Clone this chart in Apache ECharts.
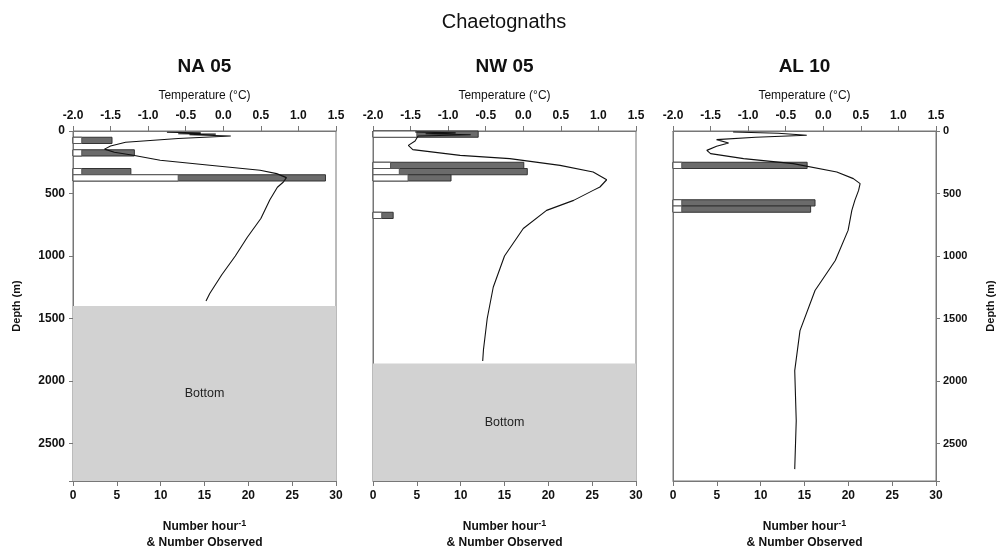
<!DOCTYPE html>
<html><head><meta charset="utf-8">
<script src="https://cdn.jsdelivr.net/npm/echarts@6/dist/echarts.min.js"></script>
<style>html,body{margin:0;padding:0;background:#fff}#c{width:1007px;height:549px}</style>
</head><body><div id="c"></div>
<script>
// ---------- data ----------
const chartTitle = 'Chaetognaths';
const panelTitles = ['NA 05', 'NW 05', 'AL 10'];
const depthMax = 2800;
const tempMin = -2, tempMax = 1.5;
const numMin = 0, numMax = 30;

// NA 05 net samples (depth intervals, m)
const naBarTop = [50, 150, 300, 350];
const naBarBottom = [100, 200, 350, 400];
const naRate = [4.45, 7.0, 6.6, 28.8];      // Number hour^-1
const naObserved = [1, 1, 1, 12];          // Number observed
const naSeafloor = 1400;

// NW 05
const nwBarTop = [0, 250, 300, 350, 650];
const nwBarBottom = [50, 300, 350, 400, 700];
const nwRate = [12.0, 17.2, 17.6, 8.9, 2.3];
const nwObserved = [5, 2, 3, 4, 1];
const nwSeafloor = 1860;

// AL 10
const alBarTop = [250, 550, 600];
const alBarBottom = [300, 600, 650];
const alRate = [15.3, 16.2, 15.7];
const alObserved = [1, 1, 1];
const alSeafloor = null;

// Temperature profiles (°C vs depth m)
const naTemp  = [-0.75, -0.3, -0.6, -0.1, -0.45, 0.1, -0.6, -1.3, -1.5, -1.58, -1.45, -1.2, -0.84, -0.18, 0.49, 0.71, 0.84, 0.80, 0.72, 0.62, 0.50, 0.32, 0.16, -0.02, -0.18, -0.23];
const naDepth = [10, 15, 22, 25, 30, 40, 60, 90, 120, 145, 170, 194, 234, 274, 314, 341, 373, 408, 450, 550, 700, 850, 1000, 1150, 1300, 1360];

const nwTemp  = [-1.44, -0.9, -1.3, -0.7, -1.4, -1.44, -1.53, -1.55, -1.47, -0.84, -0.18, 0.49, 0.93, 1.11, 1.02, 0.93, 0.67, 0.31, 0.0, -0.25, -0.40, -0.48, -0.53, -0.54];
const nwDepth = [8, 15, 22, 30, 40, 80, 115, 130, 149, 195, 221, 275, 328, 390, 448, 475, 555, 635, 780, 1000, 1250, 1500, 1750, 1840];

const alTemp  = [-1.2, -0.6, -0.22, -0.9, -1.42, -1.26, -1.42, -1.55, -1.5, -1.06, -0.40, 0.18, 0.40, 0.49, 0.47, 0.42, 0.38, 0.33, 0.16, -0.11, -0.31, -0.38, -0.36, -0.38];
const alDepth = [8, 18, 34, 50, 69, 96, 122, 155, 181, 221, 261, 328, 381, 421, 475, 555, 635, 795, 1036, 1276, 1597, 1917, 2318, 2705];

// ---------- build ----------
const FONT = '"Liberation Sans", Arial, sans-serif';
const panels = [
  {top: naBarTop, bot: naBarBottom, rate: naRate, obs: naObserved, floor: naSeafloor, temp: naTemp, depth: naDepth},
  {top: nwBarTop, bot: nwBarBottom, rate: nwRate, obs: nwObserved, floor: nwSeafloor, temp: nwTemp, depth: nwDepth},
  {top: alBarTop, bot: alBarBottom, rate: alRate, obs: alObserved, floor: alSeafloor, temp: alTemp, depth: alDepth}
];
const gridLeft = [73, 373, 673];
const gridW = 263, gridTop = 131, gridH = 350;
const AX = '#777';

const grid = gridLeft.map(l => ({left: l, top: gridTop, width: gridW, height: gridH, show: true, borderColor: AX, borderWidth: 1,
  backgroundColor: 'transparent', containLabel: false, outerBoundsMode: 'none'}));

const xAxis = [];
panels.forEach((p, i) => {
  xAxis.push({
    type: 'value', gridIndex: i, position: 'bottom', min: numMin, max: numMax, interval: 5,
    axisLine: {show: true, onZero: false, lineStyle: {color: AX}}, axisTick: {show: true, length: 5, lineStyle: {color: AX}},
    splitLine: {show: false},
    axisLabel: {fontFamily: FONT, fontWeight: 'bold', fontSize: 12, color: '#111', margin: 9},
    name: '{a|Number hour}{s|-1}\n{a|& Number Observed}', nameLocation: 'middle', nameGap: 38,
    nameTextStyle: {fontFamily: FONT, fontWeight: 'bold', fontSize: 12, color: '#111', lineHeight: 16,
      rich: {a: {fontFamily: FONT, fontWeight: 'bold', fontSize: 12, color: '#111', lineHeight: 16},
             s: {fontFamily: FONT, fontWeight: 'bold', fontSize: 9, color: '#111', verticalAlign: 'top', padding: [0, 0, 10, 0], lineHeight: 16}}}
  });
});
panels.forEach((p, i) => {
  xAxis.push({
    type: 'value', gridIndex: i, position: 'top', min: tempMin, max: tempMax, interval: 0.5,
    axisLine: {show: true, onZero: false, lineStyle: {color: AX}}, axisTick: {show: true, length: 5, lineStyle: {color: AX}},
    splitLine: {show: false},
    axisLabel: {fontFamily: FONT, fontWeight: 'bold', fontSize: 12, color: '#111', margin: 9, formatter: v => v.toFixed(1)},
    name: 'Temperature (°C)', nameLocation: 'middle', nameGap: 29,
    nameTextStyle: {fontFamily: FONT, fontSize: 12, color: '#111'}
  });
});

const depthLabelFmt = v => (v % 500 === 0 ? String(v) : '');
const yAxis = [];
panels.forEach((p, i) => {
  yAxis.push({
    type: 'value', gridIndex: i, position: 'left', inverse: true, min: 0, max: depthMax, interval: 500,
    axisLine: {show: true, onZero: false, lineStyle: {color: AX}},
    axisTick: {show: i === 0, length: 4, lineStyle: {color: AX}},
    axisLabel: {show: i === 0, fontFamily: FONT, fontWeight: 'bold', fontSize: 12, color: '#111', margin: 8, formatter: depthLabelFmt},
    splitLine: {show: false},
    name: i === 0 ? 'Depth (m)' : '', nameLocation: 'middle', nameRotate: 90, nameGap: 51,
    nameTextStyle: {fontFamily: FONT, fontWeight: 'bold', fontSize: 11, color: '#111'}
  });
});
yAxis.push({
  type: 'value', gridIndex: 2, position: 'right', inverse: true, min: 0, max: depthMax, interval: 500,
  axisLine: {show: true, onZero: false, lineStyle: {color: AX}},
  axisTick: {show: true, length: 4, lineStyle: {color: AX}},
  axisLabel: {fontFamily: FONT, fontWeight: 'bold', fontSize: 11, color: '#111', margin: 7, formatter: depthLabelFmt},
  splitLine: {show: false},
  name: 'Depth (m)', nameLocation: 'middle', nameRotate: 90, nameGap: 49,
  nameTextStyle: {fontFamily: FONT, fontWeight: 'bold', fontSize: 11, color: '#111'}
});

function rectRender(fill, stroke) {
  return function (params, api) {
    const p0 = api.coord([0, api.value(0)]);
    const p1 = api.coord([api.value(2), api.value(1)]);
    return {type: 'rect', shape: {x: p0[0], y: p0[1], width: p1[0] - p0[0], height: p1[1] - p0[1]},
      style: {fill: fill, stroke: stroke, lineWidth: 1}};
  };
}
function floorRender(params, api) {
  const p0 = api.coord([numMin, api.value(0)]);
  const p1 = api.coord([numMax, api.value(1)]);
  return {type: 'group', children: [
    {type: 'rect', shape: {x: p0[0], y: p0[1], width: p1[0] - p0[0], height: p1[1] - p0[1]}, style: {fill: '#d2d2d2'}},
    {type: 'text', x: (p0[0] + p1[0]) / 2, y: (p0[1] + p1[1]) / 2,
      style: {text: 'Bottom', fill: '#222', font: '12.5px ' + FONT, align: 'center', verticalAlign: 'middle'}}
  ]};
}

const series = [];
panels.forEach((p, i) => {
  if (p.floor !== null) {
    series.push({type: 'custom', xAxisIndex: i, yAxisIndex: i, renderItem: floorRender,
      data: [[p.floor, depthMax]], encode: {y: [0, 1]}, silent: true, z: 1});
  }
  series.push({type: 'custom', xAxisIndex: i, yAxisIndex: i, renderItem: rectRender('#6b6b6b', '#333'),
    data: p.top.map((t, k) => [t, p.bot[k], p.rate[k]]), encode: {x: 2, y: [0, 1]}, z: 2});
  series.push({type: 'custom', xAxisIndex: i, yAxisIndex: i, renderItem: rectRender('#ffffff', '#555'),
    data: p.top.map((t, k) => [t, p.bot[k], p.obs[k]]), encode: {x: 2, y: [0, 1]}, z: 3});
  series.push({type: 'line', xAxisIndex: 3 + i, yAxisIndex: i, symbol: 'none', smooth: false,
    lineStyle: {color: '#111', width: 1.1}, data: p.temp.map((t, k) => [t, p.depth[k]]), z: 4, animation: false});
});

const graphic = [
  {type: 'text', x: 504, y: 22, style: {text: chartTitle, font: '20px ' + FONT, fill: '#111', align: 'center', verticalAlign: 'middle'}}
];
panelTitles.forEach((t, i) => {
  graphic.push({type: 'text', x: gridLeft[i] + gridW / 2, y: 67,
    style: {text: t, font: 'bold 19px ' + FONT, fill: '#111', align: 'center', verticalAlign: 'middle'}});
});

const chart = echarts.init(document.getElementById('c'), null, {renderer: 'canvas'});
chart.setOption({backgroundColor: '#fff', animation: false, grid, xAxis, yAxis, series, graphic});
</script></body></html>
